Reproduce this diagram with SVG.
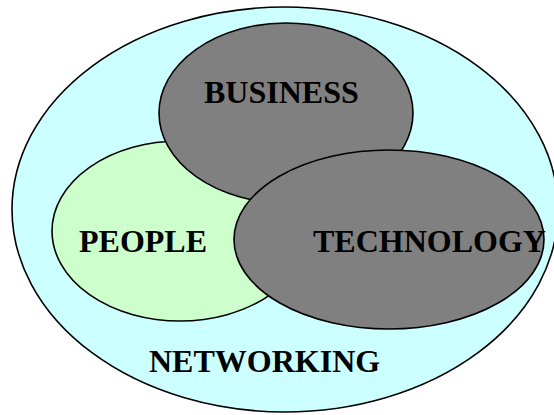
<svg xmlns="http://www.w3.org/2000/svg" width="554" height="415" viewBox="0 0 554 415">
  <style>
    .ring { stroke: #000; stroke-width: 1.6; }
    .label { font-family: "Liberation Serif", "Times New Roman", serif; font-weight: bold; font-size: 32px; fill: #000; }
  </style>
  <rect width="554" height="415" fill="#fff"/>
  <g id="networking">
    <ellipse class="ring" cx="285" cy="209.5" rx="273" ry="202.5" fill="#ccffff"/>
    <text class="label" x="149" y="372">NETWORKING</text>
  </g>
  <g id="people">
    <ellipse class="ring" cx="180" cy="231" rx="128" ry="90" fill="#ccffcc"/>
    <text class="label" x="79" y="252">PEOPLE</text>
  </g>
  <g id="business">
    <ellipse class="ring" cx="286" cy="113" rx="127" ry="90" fill="#808080"/>
    <text class="label" x="204" y="103">BUSINESS</text>
  </g>
  <g id="technology">
    <ellipse class="ring" cx="389" cy="239.5" rx="155" ry="89.5" fill="#808080"/>
    <text class="label" x="313" y="252">TECHNOLOGY</text>
  </g>
</svg>
